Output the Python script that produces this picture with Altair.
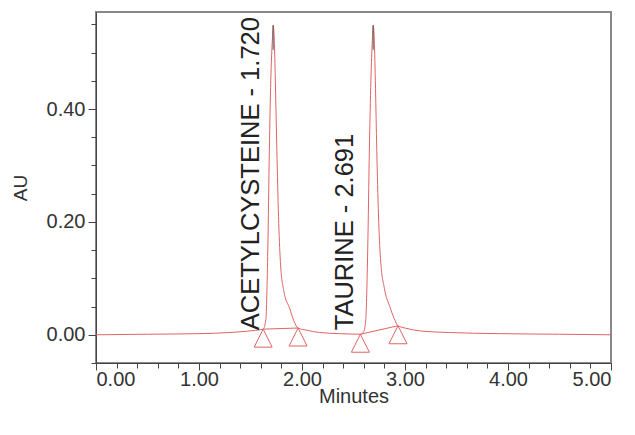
import altair as alt
import pandas as pd

# ---- data ----
time_min = [0.00, 0.50, 1.00, 1.30, 1.45, 1.55, 1.623, 1.649, 1.668, 1.683, 1.697, 1.712, 1.720,
            1.731, 1.741, 1.756, 1.772, 1.790, 1.823, 1.882, 1.920, 1.962, 2.05, 2.17, 2.37, 2.567,
            2.600, 2.619, 2.638, 2.654, 2.669, 2.683, 2.691, 2.702, 2.712, 2.726, 2.742, 2.762, 2.800,
            2.852, 2.895, 2.932, 3.00, 3.14, 3.43, 3.92, 4.50, 5.00]
absorbance = [0.000, 0.001, 0.002, 0.004, 0.006, 0.008, 0.010, 0.027, 0.150, 0.327, 0.451, 0.522, 0.548,
              0.522, 0.451, 0.327, 0.210, 0.130, 0.078, 0.046, 0.025, 0.012, 0.008, 0.004, 0.002, 0.001,
              0.006, 0.027, 0.150, 0.327, 0.451, 0.522, 0.548, 0.522, 0.451, 0.327, 0.215, 0.135, 0.082,
              0.050, 0.029, 0.016, 0.012, 0.007, 0.004, 0.002, 0.001, 0.000]

# peak start / end markers (integration baseline points)
mark_time = [1.623, 1.962, 2.567, 2.932]
mark_au = [0.010, 0.012, 0.001, 0.016]
mark_peak = ["p1", "p1", "p2", "p2"]

# apex markers
apex_time = [1.720, 2.691]
apex_top = [0.549, 0.549]
apex_bottom = [0.505, 0.505]

# peak labels
label_time = [1.720, 2.691]
label_text = ["ACETYLCYSTEINE - 1.720", "TAURINE - 2.691"]

x_major_vals = [0, 1, 2, 3, 4, 5]
x_minor_vals = [0.2, 0.4, 0.6, 0.8, 1.2, 1.4, 1.6, 1.8, 2.2, 2.4, 2.6, 2.8,
                3.2, 3.4, 3.6, 3.8, 4.2, 4.4, 4.6, 4.8]
y_major_vals = [0.0, 0.2, 0.4]
y_minor_vals = [-0.05, 0.05, 0.10, 0.15, 0.25, 0.30, 0.35, 0.45, 0.50, 0.55]

RED = "#e06464"
AXC = "#444444"
FONT = "Liberation Sans"

trace = pd.DataFrame({"t": time_min, "v": absorbance})
marks = pd.DataFrame({"t": mark_time, "v": mark_au, "peak": mark_peak})
apex = pd.DataFrame({"t": apex_time, "top": apex_top, "bottom": apex_bottom})
labels = pd.DataFrame({"t": label_time, "label": label_text, "i": [0, 1]})

xs = alt.Scale(domain=[0, 5], nice=False, zero=False)
ys = alt.Scale(domain=[-0.05, 0.572], nice=False, zero=False)

x_major = alt.Axis(orient="bottom", values=x_major_vals, format=".2f", grid=False,
                   tickSize=7, tickColor=AXC, domainColor=AXC, labelPadding=-1,
                   labelFont=FONT, labelFontSize=20, labelColor="#333333",
                   title="Minutes", titleFont=FONT, titleFontSize=20,
                   titleFontWeight="normal", titleColor="#333333", titlePadding=-3)
y_major = alt.Axis(orient="left", values=y_major_vals, format=".2f", grid=False,
                   tickSize=8, tickColor=AXC, domainColor=AXC, labelPadding=3,
                   labelFont=FONT, labelFontSize=20, labelColor="#333333",
                   title="AU", titleFont=FONT, titleFontSize=19,
                   titleFontWeight="normal", titleColor="#333333", titlePadding=16)
x_minor = alt.Axis(orient="bottom", values=x_minor_vals, labels=False, domain=False,
                   grid=False, tickSize=5, tickColor=AXC, title=None)
y_minor = alt.Axis(orient="left", values=y_minor_vals, labels=False, domain=False,
                   grid=False, tickSize=5, tickColor=AXC, title=None)

line = alt.Chart(trace).mark_line(color=RED, strokeWidth=1, interpolate="monotone").encode(
    x=alt.X("t:Q", scale=xs, axis=x_major),
    y=alt.Y("v:Q", scale=ys, axis=y_major),
)
minor = alt.Chart(trace).mark_line(opacity=0).encode(
    x=alt.X("t:Q", scale=xs, axis=x_minor),
    y=alt.Y("v:Q", scale=ys, axis=y_minor),
)
base_seg = alt.Chart(marks).mark_line(color=RED, strokeWidth=1).encode(
    x=alt.X("t:Q", scale=xs, axis=None),
    y=alt.Y("v:Q", scale=ys, axis=None),
    detail="peak:N",
)
tri = alt.Chart(marks).mark_point(
    shape="M0,0L-1,2L1,2Z", size=324, filled=False, color=RED, strokeWidth=1, opacity=1
).encode(
    x=alt.X("t:Q", scale=xs, axis=None),
    y=alt.Y("v:Q", scale=ys, axis=None),
)
apex_rule = alt.Chart(apex).mark_rule(color="#555555", strokeWidth=1).encode(
    x=alt.X("t:Q", scale=xs, axis=None),
    y=alt.Y("top:Q", scale=ys, axis=None),
    y2="bottom:Q",
)
lab1 = alt.Chart(labels).transform_filter("datum.i == 0").mark_text(
    angle=270, align="left", baseline="middle", font=FONT, fontSize=25.5,
    color="#222222", xOffset=-22
).encode(
    x=alt.X("t:Q", scale=xs, axis=None),
    y=alt.Y(datum=0.008, scale=ys, axis=None),
    text="label:N",
)
lab2 = alt.Chart(labels).transform_filter("datum.i == 1").mark_text(
    angle=270, align="left", baseline="middle", font=FONT, fontSize=25.5,
    color="#222222", xOffset=-28
).encode(
    x=alt.X("t:Q", scale=xs, axis=None),
    y=alt.Y(datum=0.008, scale=ys, axis=None),
    text="label:N",
)

chart = alt.layer(line, minor, base_seg, tri, apex_rule, lab1, lab2).resolve_axis(
    x="independent", y="independent"
).properties(
    width=515, height=351,
    autosize=alt.AutoSizeParams(type="none"),
    padding={"left": 96, "top": 12, "right": 24, "bottom": 72},
    background="white",
).configure_view(stroke="#888888", strokeWidth=2)

chart.save("out.html", embed_options={"renderer": "svg", "actions": False})
